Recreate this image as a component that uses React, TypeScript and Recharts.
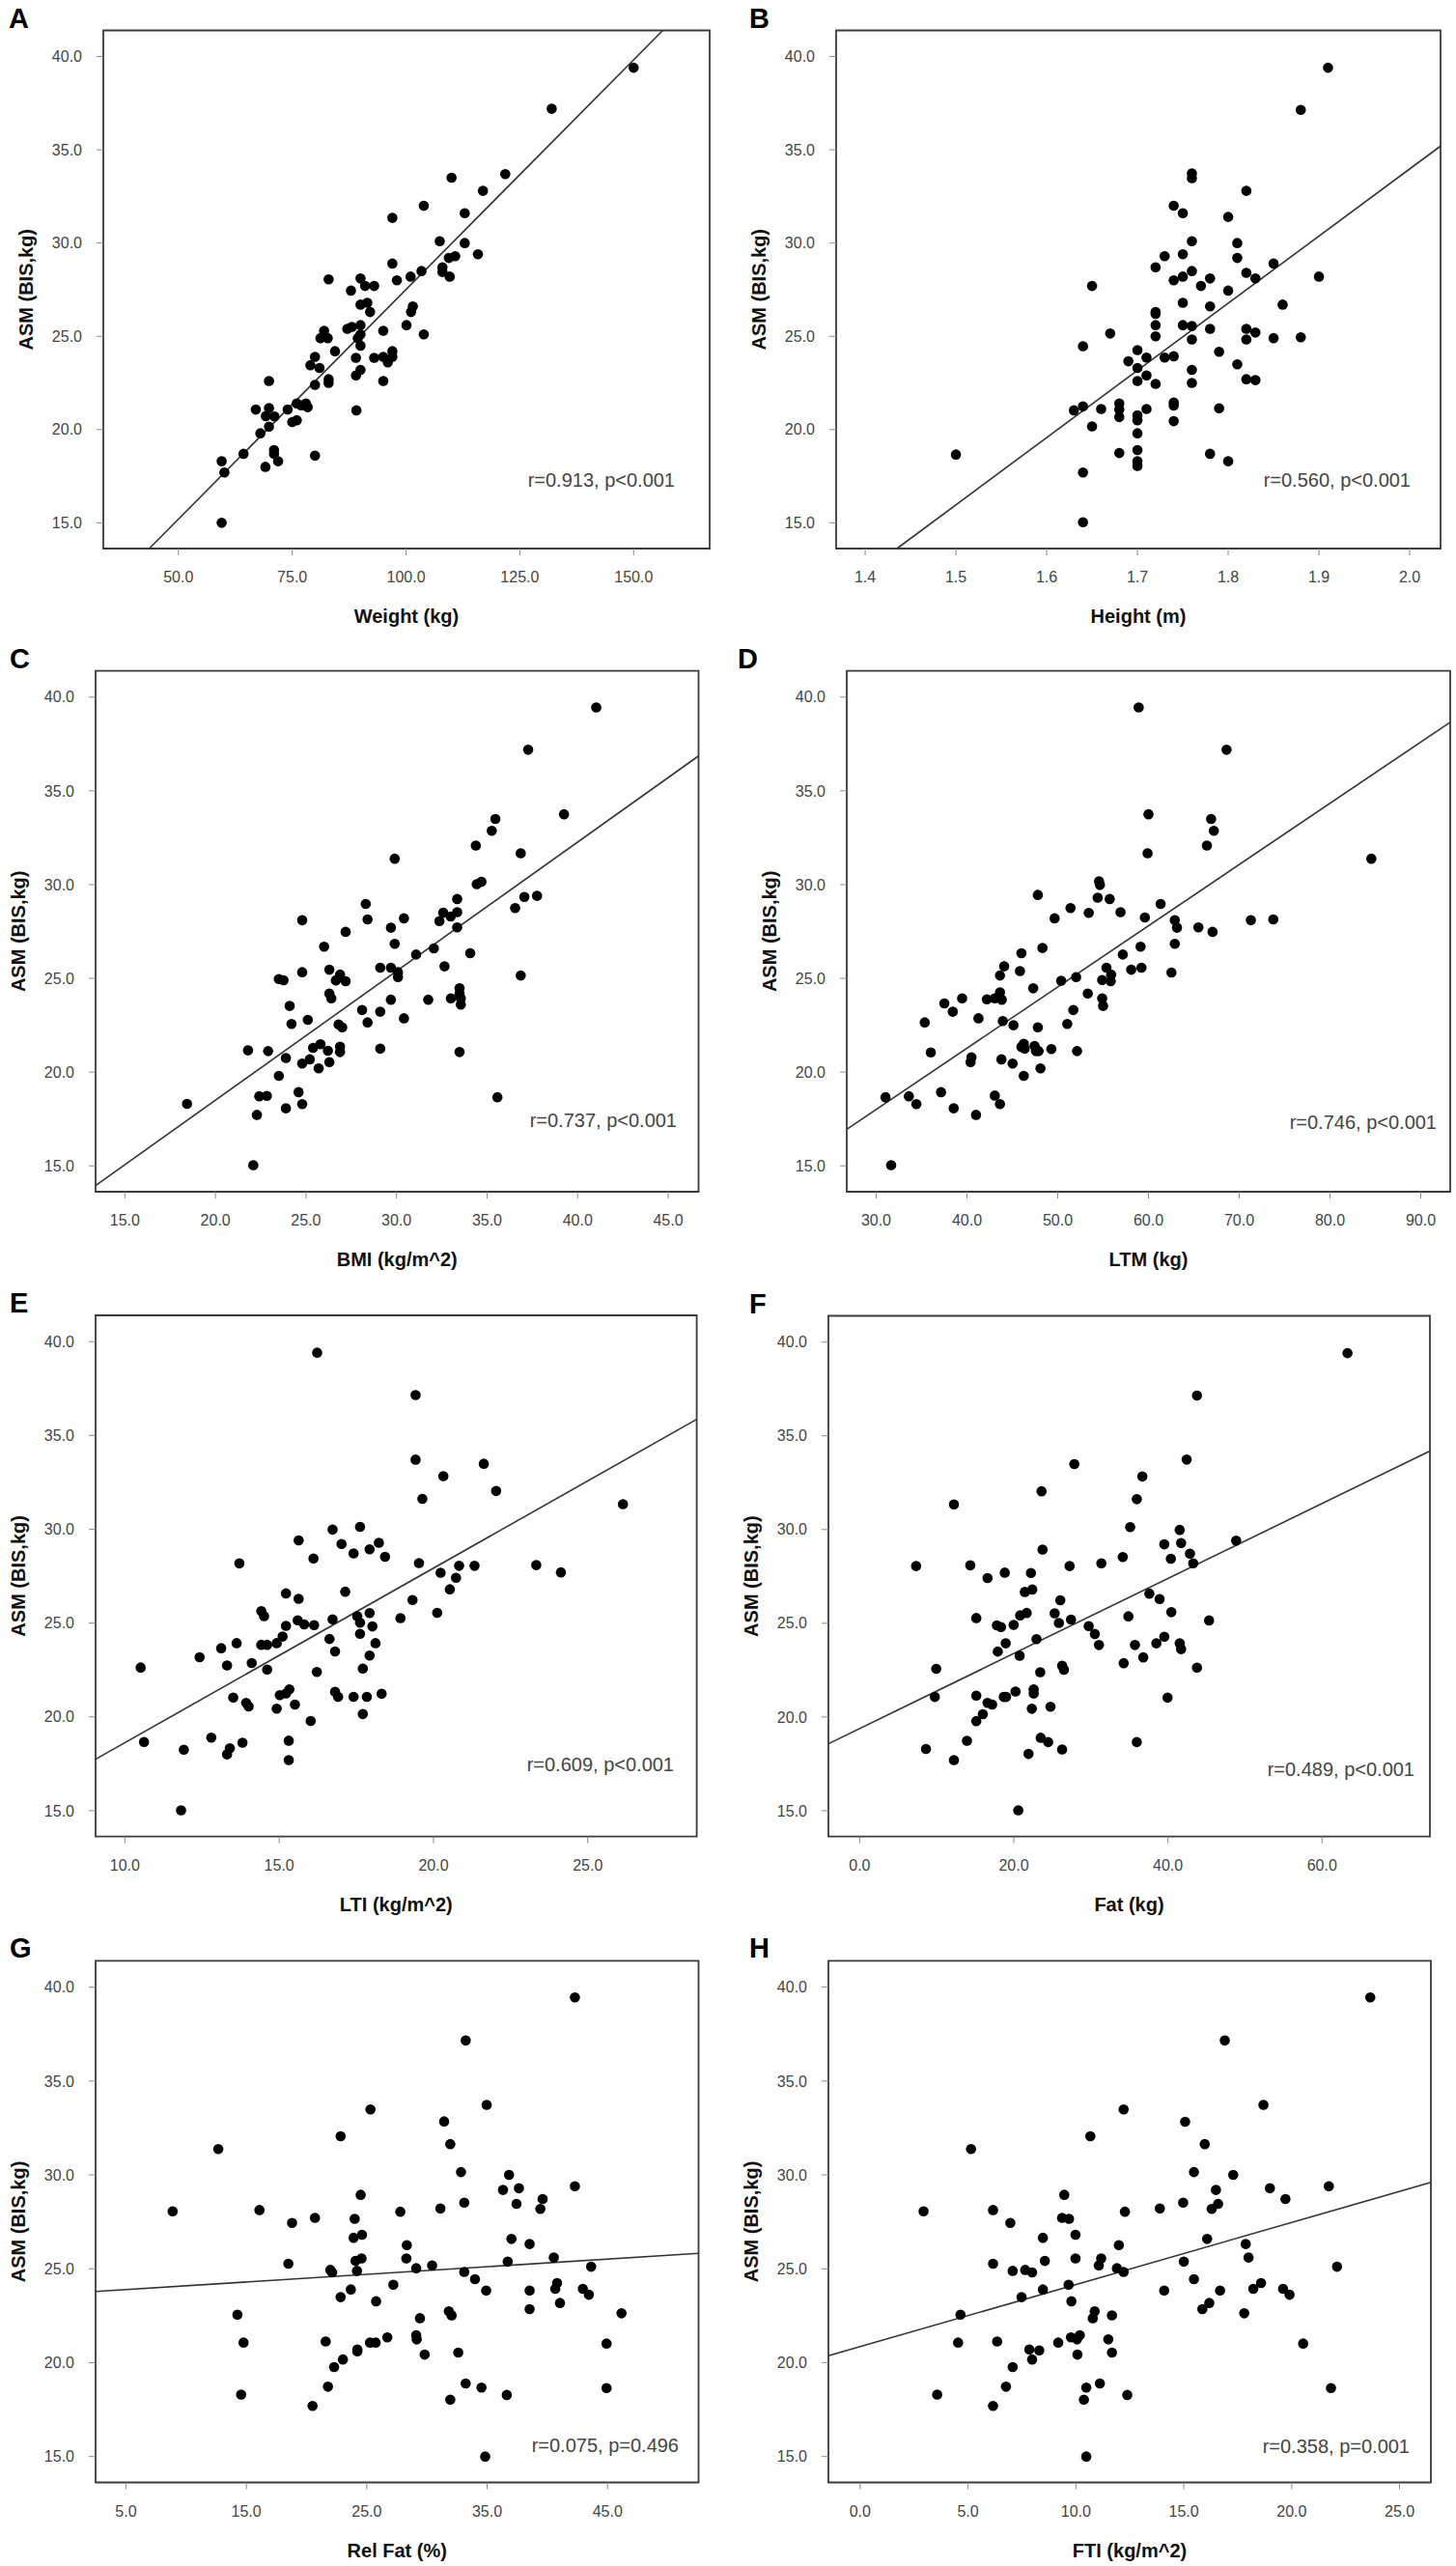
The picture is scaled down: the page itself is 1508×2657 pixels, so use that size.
import React from "react";
import {
  ScatterChart, Scatter, XAxis, YAxis, ReferenceArea, ReferenceLine,
} from "recharts";

type Pt = [number, number];

const FONT = "'Liberation Sans', Arial, sans-serif";

// shared y axis: ASM (BIS, kg)
const asmTicks = [15, 20, 25, 30, 35, 40];
const asmDomain: [number, number] = [13.62, 41.4];

// A: weight
const weightTicks = [50, 75, 100, 125, 150];
const weightDomain: [number, number] = [33.5, 166.7];
const weightFit: Pt[] = [[43.6, 13.62], [156.4, 41.4]];
const weightPts: Pt[] = [
  [150.0, 39.4], [132.0, 37.2], [121.8, 33.7], [110.0, 33.5], [116.9, 32.8], [103.9, 32.0], [112.9, 31.6],
  [97.0, 31.35], [107.4, 30.1], [112.9, 30.0], [115.8, 29.4], [109.4, 29.2], [110.8, 29.3], [97.0, 28.9],
  [103.4, 28.5], [108.0, 28.7], [108.0, 28.45], [109.6, 28.2], [101.0, 28.2], [98.0, 28.0], [83.0, 28.05],
  [90.0, 28.1], [91.0, 27.7], [93.0, 27.7], [87.9, 27.45], [90.0, 26.7], [91.5, 26.8], [92.1, 26.3],
  [101.5, 26.6], [101.1, 26.3], [100.1, 25.6], [103.9, 25.1], [95.0, 25.3], [87.1, 25.4], [88.1, 25.5],
  [90.0, 25.6], [90.0, 25.1], [89.4, 24.9], [90.0, 24.5], [82.0, 25.3], [81.2, 24.9], [82.8, 24.9],
  [84.4, 24.2], [80.0, 23.9], [79.0, 23.45], [81.0, 23.3], [89.0, 23.85], [93.0, 23.85], [95.0, 23.9],
  [96.0, 23.6], [97.0, 23.9], [97.0, 24.2], [90.0, 23.2], [89.0, 22.9], [83.0, 22.7], [83.0, 22.5],
  [80.0, 22.4], [95.0, 22.6], [69.9, 22.6], [67.0, 21.07], [69.9, 21.15], [69.2, 20.72], [71.1, 20.7],
  [69.9, 20.16], [68.0, 19.8], [74.0, 21.07], [75.0, 20.4], [76.0, 20.5], [76.0, 21.4], [77.0, 21.3],
  [78.0, 21.4], [78.4, 21.2], [89.1, 21.03], [64.3, 18.7], [71.0, 18.9], [71.0, 18.7], [71.9, 18.3],
  [69.1, 18.0], [59.5, 18.3], [60.1, 17.7], [80.0, 18.6], [59.5, 15.0],
];

// B: height
const heightTicks = [1.4, 1.5, 1.6, 1.7, 1.8, 1.9, 2.0];
const heightDomain: [number, number] = [1.368, 2.034];
const heightFit: Pt[] = [[1.435, 13.62], [2.034, 35.2]];
const heightPts: Pt[] = [
  [1.91, 39.4], [1.88, 37.14], [1.76, 33.74], [1.76, 33.48], [1.82, 32.8], [1.74, 32.0], [1.75, 31.6],
  [1.80, 31.4], [1.76, 30.1], [1.81, 30.0], [1.81, 29.2], [1.73, 29.3], [1.75, 29.4], [1.85, 28.9],
  [1.72, 28.7], [1.76, 28.5], [1.82, 28.4], [1.75, 28.2], [1.74, 28.0], [1.78, 28.1], [1.83, 28.1],
  [1.90, 28.2], [1.65, 27.7], [1.77, 27.7], [1.80, 27.45], [1.75, 26.8], [1.78, 26.6], [1.86, 26.7],
  [1.72, 26.3], [1.72, 26.2], [1.72, 25.6], [1.75, 25.6], [1.76, 25.55], [1.78, 25.4], [1.82, 25.4],
  [1.83, 25.2], [1.67, 25.15], [1.72, 25.0], [1.76, 24.83], [1.82, 24.83], [1.85, 24.9], [1.88, 24.95],
  [1.64, 24.47], [1.70, 24.26], [1.79, 24.17], [1.69, 23.66], [1.71, 23.86], [1.73, 23.86], [1.74, 23.93],
  [1.70, 23.3], [1.76, 23.2], [1.81, 23.5], [1.71, 22.9], [1.70, 22.6], [1.72, 22.45], [1.76, 22.5],
  [1.82, 22.7], [1.83, 22.65], [1.63, 21.03], [1.64, 21.24], [1.66, 21.1], [1.68, 21.4], [1.68, 21.07],
  [1.68, 20.67], [1.70, 20.76], [1.70, 20.5], [1.71, 21.1], [1.74, 21.45], [1.74, 21.28], [1.74, 20.45],
  [1.79, 21.14], [1.65, 20.17], [1.70, 19.8], [1.50, 18.66], [1.68, 18.74], [1.70, 18.9], [1.70, 18.3],
  [1.70, 18.05], [1.78, 18.7], [1.80, 18.3], [1.64, 17.7], [1.64, 15.03],
];

// C: BMI
const bmiTicks = [15, 20, 25, 30, 35, 40, 45];
const bmiDomain: [number, number] = [13.38, 46.68];
const bmiFit: Pt[] = [[13.38, 13.95], [46.68, 36.86]];
const bmiPts: Pt[] = [
  [41.03, 39.45], [37.27, 37.19], [35.46, 33.5], [35.26, 32.87], [39.25, 33.75], [34.38, 32.08], [36.86, 31.67],
  [29.9, 31.38], [34.43, 30.02], [34.69, 30.15], [33.35, 29.23], [37.06, 29.34], [37.76, 29.4], [36.55, 28.75],
  [28.3, 28.97], [33.35, 28.53], [32.58, 28.5], [32.99, 28.3], [32.37, 28.05], [28.4, 28.14], [30.41, 28.2],
  [24.79, 28.1], [29.69, 27.7], [33.35, 27.72], [27.19, 27.48], [29.9, 26.84], [26.0, 26.69], [32.06, 26.6],
  [31.08, 26.27], [34.07, 26.34], [26.29, 25.46], [29.69, 25.57], [29.1, 25.57], [32.65, 25.64], [30.08, 25.33],
  [30.08, 25.07], [24.79, 25.33], [23.5, 24.96], [23.76, 24.9], [26.88, 25.2], [26.65, 24.89], [27.19, 24.85],
  [36.86, 25.15], [33.48, 24.47], [33.48, 24.19], [33.55, 23.93], [33.55, 23.6], [26.29, 24.19], [26.4, 23.93],
  [29.69, 23.86], [31.75, 23.86], [33.0, 23.93], [24.1, 23.53], [28.1, 23.31], [29.1, 23.22], [25.1, 22.79],
  [24.2, 22.57], [30.41, 22.87], [28.4, 22.65], [26.8, 22.54], [27.0, 22.39], [25.8, 21.49], [25.39, 21.29],
  [26.21, 21.14], [26.88, 21.36], [26.88, 21.07], [21.8, 21.16], [22.91, 21.12], [29.1, 21.25], [33.48, 21.07],
  [23.89, 20.75], [25.21, 20.68], [24.79, 20.46], [26.29, 20.53], [25.7, 20.2], [23.5, 19.8], [24.59, 18.93],
  [22.42, 18.71], [22.84, 18.73], [35.57, 18.66], [18.43, 18.31], [24.79, 18.29], [23.89, 18.07], [22.29, 17.72],
  [22.09, 15.04],
];

// D: LTM
const ltmTicks = [30, 40, 50, 60, 70, 80, 90];
const ltmDomain: [number, number] = [26.76, 93.24];
const ltmFit: Pt[] = [[26.76, 16.95], [93.24, 38.66]];
const ltmPts: Pt[] = [
  [58.92, 39.45], [68.6, 37.19], [60.0, 33.75], [66.9, 33.5], [67.2, 32.87], [66.44, 32.08], [59.9, 31.67],
  [84.55, 31.38], [54.55, 30.18], [54.65, 29.98], [47.81, 29.45], [54.4, 29.3], [55.73, 29.23], [51.41, 28.75],
  [61.34, 28.97], [53.42, 28.49], [56.92, 28.53], [49.66, 28.2], [59.6, 28.25], [62.9, 28.1], [71.28, 28.1],
  [73.75, 28.14], [63.14, 27.7], [65.5, 27.72], [67.06, 27.48], [48.32, 26.62], [62.9, 26.84], [59.13, 26.69],
  [46.0, 26.34], [57.17, 26.27], [44.1, 25.64], [55.37, 25.57], [59.23, 25.57], [58.1, 25.46], [45.84, 25.39],
  [43.64, 25.15], [62.53, 25.31], [52.03, 25.07], [54.9, 24.91], [55.84, 24.85], [55.89, 25.2], [50.38, 24.87],
  [47.3, 24.47], [43.64, 24.25], [39.47, 23.93], [42.2, 23.88], [43.07, 23.93], [43.84, 23.86], [37.51, 23.66],
  [53.31, 24.19], [54.9, 23.93], [55.0, 23.53], [38.44, 23.22], [51.72, 23.31], [41.27, 22.87], [43.95, 22.72],
  [35.35, 22.65], [45.13, 22.5], [51.05, 22.57], [47.81, 22.39], [46.26, 21.51], [46.36, 21.25], [46.0, 21.34],
  [47.45, 21.4], [47.6, 21.12], [47.9, 21.12], [49.3, 21.23], [36.02, 21.05], [52.13, 21.12], [40.5, 20.79],
  [40.4, 20.53], [43.8, 20.68], [45.03, 20.46], [48.1, 20.2], [46.26, 19.8], [31.03, 18.66], [33.6, 18.71],
  [34.43, 18.29], [37.15, 18.93], [38.54, 18.07], [43.07, 18.75], [43.64, 18.29], [41.0, 17.72], [31.65, 15.04],
];

// E: LTI
const ltiTicks = [10, 15, 20, 25];
const ltiDomain: [number, number] = [9.05, 28.53];
const ltiFit: Pt[] = [[9.05, 17.74], [28.53, 35.86]];
const ltiPts: Pt[] = [
  [16.23, 39.41], [19.42, 37.15], [19.42, 33.71], [21.63, 33.49], [20.32, 32.83], [22.03, 32.04], [19.64, 31.62],
  [26.14, 31.34], [16.73, 29.98], [17.62, 30.13], [15.63, 29.41], [17.02, 29.21], [18.23, 29.28], [17.93, 28.93],
  [17.41, 28.71], [18.43, 28.53], [16.11, 28.44], [13.71, 28.18], [19.53, 28.2], [21.33, 28.05], [20.83, 28.05],
  [23.33, 28.09], [20.23, 27.68], [24.13, 27.7], [20.73, 27.41], [20.53, 26.8], [15.22, 26.58], [17.14, 26.67],
  [15.63, 26.29], [19.32, 26.23], [14.42, 25.64], [14.51, 25.37], [20.12, 25.55], [17.93, 25.53], [17.53, 25.37],
  [15.6, 25.15], [16.73, 25.2], [18.93, 25.26], [15.81, 24.93], [16.13, 24.89], [15.22, 24.85], [17.62, 25.02],
  [18.02, 24.82], [15.11, 24.28], [17.62, 24.43], [16.63, 24.15], [13.62, 23.93], [14.42, 23.84], [14.61, 23.84],
  [14.92, 23.93], [13.12, 23.66], [18.12, 23.93], [16.81, 23.49], [17.93, 23.27], [12.42, 23.18], [14.11, 22.87],
  [13.31, 22.74], [10.51, 22.63], [14.61, 22.52], [17.71, 22.57], [16.22, 22.39], [13.51, 21.03], [15.02, 21.16],
  [15.22, 21.25], [15.33, 21.47], [16.81, 21.34], [16.91, 21.07], [17.41, 21.07], [17.84, 21.07], [18.32, 21.23],
  [13.93, 20.75], [14.01, 20.55], [15.51, 20.66], [14.92, 20.44], [17.71, 20.15], [16.02, 19.78], [10.62, 18.66],
  [11.91, 18.25], [12.8, 18.89], [13.4, 18.33], [13.31, 18.0], [13.81, 18.62], [15.31, 18.73], [15.31, 17.7],
  [11.82, 15.02],
];

// F: fat mass
const fatTicks = [0, 20, 40, 60];
const fatDomain: [number, number] = [-4.06, 74.0];
const fatFit: Pt[] = [[-4.06, 18.57], [74.0, 34.19]];
const fatPts: Pt[] = [
  [63.3, 39.41], [43.77, 37.15], [27.85, 33.49], [42.43, 33.73], [36.68, 32.83], [23.6, 32.04], [35.96, 31.62],
  [12.23, 31.34], [35.1, 30.13], [41.53, 29.98], [39.53, 29.21], [41.71, 29.28], [48.85, 29.41], [23.73, 28.93],
  [42.86, 28.71], [40.38, 28.44], [34.14, 28.53], [43.28, 28.2], [31.36, 28.2], [7.32, 28.05], [14.35, 28.09],
  [27.24, 28.05], [18.83, 27.7], [22.22, 27.68], [16.59, 27.41], [22.4, 26.8], [21.43, 26.67], [37.59, 26.58],
  [38.92, 26.29], [26.03, 26.23], [21.67, 25.55], [20.82, 25.42], [25.3, 25.53], [40.44, 25.59], [34.87, 25.37],
  [15.13, 25.28], [27.42, 25.2], [45.34, 25.15], [25.85, 25.02], [19.98, 24.91], [17.8, 24.89], [18.34, 24.8],
  [29.72, 24.85], [30.51, 24.43], [39.53, 24.28], [22.94, 24.15], [18.95, 23.93], [31.05, 23.84], [35.72, 23.84],
  [38.5, 23.93], [41.53, 23.93], [41.71, 23.62], [17.92, 23.49], [20.76, 23.27], [36.8, 23.18], [34.26, 22.87],
  [26.27, 22.74], [26.51, 22.52], [43.77, 22.63], [9.93, 22.57], [23.43, 22.39], [22.58, 21.47], [22.58, 21.25],
  [20.22, 21.36], [9.75, 21.07], [15.13, 21.14], [18.7, 21.07], [19.0, 21.07], [39.95, 21.03], [16.59, 20.75],
  [17.19, 20.66], [24.76, 20.55], [22.34, 20.44], [15.98, 20.15], [15.13, 19.78], [23.49, 18.89], [24.46, 18.66],
  [13.92, 18.73], [35.96, 18.66], [8.6, 18.29], [26.27, 18.27], [21.91, 18.03], [12.23, 17.7], [20.58, 15.02],
];

// G: relative fat
const relFatTicks = [5, 15, 25, 35, 45];
const relFatDomain: [number, number] = [2.48, 52.56];
const relFatFit: Pt[] = [[2.48, 23.79], [52.56, 25.82]];
const relFatPts: Pt[] = [
  [42.29, 39.45], [33.22, 37.16], [25.31, 33.49], [34.96, 33.73], [31.43, 32.85], [22.83, 32.06], [31.94, 31.64],
  [12.67, 31.38], [32.83, 30.15], [36.82, 30.0], [42.29, 29.4], [36.32, 29.2], [37.64, 29.29], [24.5, 28.94],
  [39.61, 28.72], [33.1, 28.52], [37.44, 28.46], [39.42, 28.19], [31.12, 28.21], [8.88, 28.06], [16.09, 28.13],
  [27.79, 28.04], [20.7, 27.71], [24.0, 27.66], [18.8, 27.44], [23.91, 26.65], [24.61, 26.81], [37.02, 26.59],
  [28.33, 26.26], [38.53, 26.32], [40.54, 25.6], [24.57, 25.55], [28.29, 25.55], [24.07, 25.42], [18.49, 25.27],
  [36.71, 25.38], [30.43, 25.18], [43.64, 25.11], [29.11, 25.03], [21.98, 24.94], [22.13, 24.81], [24.19, 24.89],
  [33.1, 24.83], [33.99, 24.45], [27.21, 24.15], [23.68, 23.9], [34.92, 23.84], [38.53, 23.84], [40.66, 23.93],
  [40.81, 24.24], [42.95, 23.93], [43.45, 23.62], [22.83, 23.49], [25.78, 23.27], [41.05, 23.18], [38.53, 22.85],
  [31.82, 22.74], [32.05, 22.52], [46.16, 22.63], [14.26, 22.56], [29.42, 22.37], [21.59, 21.13], [14.77, 21.07],
  [25.27, 21.07], [25.74, 21.07], [26.71, 21.35], [29.11, 21.46], [29.15, 21.24], [44.92, 21.02], [24.22, 20.7],
  [24.22, 20.6], [32.6, 20.54], [29.81, 20.43], [23.02, 20.17], [22.29, 19.77], [21.78, 18.72], [33.22, 18.89],
  [34.53, 18.67], [44.92, 18.65], [14.57, 18.3], [36.63, 18.28], [31.94, 18.03], [20.5, 17.7], [34.84, 15.0],
];

// H: FTI
const ftiTicks = [0, 5, 10, 15, 20, 25];
const ftiDomain: [number, number] = [-1.47, 26.45];
const ftiFit: Pt[] = [[-1.47, 20.37], [26.45, 29.6]];
const ftiPts: Pt[] = [
  [23.64, 39.45], [16.9, 37.16], [12.21, 33.49], [18.69, 33.73], [15.06, 32.83], [10.67, 32.06], [15.97, 31.64],
  [5.14, 31.38], [15.47, 30.15], [17.29, 30.0], [21.72, 29.4], [16.49, 29.2], [18.99, 29.29], [9.46, 28.94],
  [19.71, 28.72], [14.97, 28.52], [16.59, 28.46], [16.29, 28.19], [13.89, 28.21], [2.94, 28.06], [6.16, 28.13],
  [12.27, 28.04], [9.36, 27.71], [9.68, 27.66], [6.96, 27.44], [9.98, 26.81], [8.47, 26.65], [16.08, 26.59],
  [11.99, 26.26], [17.87, 26.32], [18.0, 25.6], [9.98, 25.55], [11.17, 25.55], [8.56, 25.42], [6.16, 25.27],
  [15.0, 25.38], [11.06, 25.18], [22.1, 25.11], [11.9, 25.03], [7.07, 24.89], [7.65, 24.94], [7.97, 24.81],
  [12.21, 24.83], [15.47, 24.45], [9.66, 24.15], [8.47, 23.9], [14.09, 23.84], [16.68, 23.84], [18.22, 23.93],
  [18.58, 24.24], [19.6, 23.93], [19.9, 23.62], [7.48, 23.49], [9.79, 23.27], [16.18, 23.18], [15.86, 22.85],
  [10.87, 22.74], [10.78, 22.37], [17.8, 22.63], [4.65, 22.56], [11.67, 22.52], [9.18, 21.07], [4.54, 21.07],
  [6.35, 21.13], [9.77, 21.35], [10.05, 21.24], [10.18, 21.46], [11.5, 21.24], [20.53, 21.02], [7.84, 20.7],
  [8.3, 20.65], [11.67, 20.54], [10.07, 20.43], [7.97, 20.17], [7.07, 19.77], [6.76, 18.72], [11.11, 18.89],
  [10.48, 18.67], [21.82, 18.65], [3.57, 18.3], [12.38, 18.28], [10.37, 18.03], [6.16, 17.7], [10.48, 15.0],
];

const panelLetters = ["A", "B", "C", "D", "E", "F", "G", "H"];
const xLabels = [
  "Weight (kg)", "Height (m)", "BMI (kg/m^2)", "LTM (kg)",
  "LTI (kg/m^2)", "Fat (kg)", "Rel Fat (%)", "FTI (kg/m^2)",
];
const statTexts = [
  "r=0.913, p<0.001", "r=0.560, p<0.001", "r=0.737, p<0.001", "r=0.746, p<0.001",
  "r=0.609, p<0.001", "r=0.489, p<0.001", "r=0.075, p=0.496", "r=0.358, p=0.001",
];

// layout (panel-local pixels)
const PW = 754;
const PH = 664;
const boxes = [
  { left: 107, right: 735, top: 31.5, bottom: 568 },
  { left: 112, right: 738, top: 31.5, bottom: 568 },
  { left: 99, right: 723.5, top: 30.6, bottom: 570 },
  { left: 123, right: 748, top: 30.6, bottom: 570 },
  { left: 99, right: 721.6, top: 34, bottom: 573.7 },
  { left: 104, right: 727, top: 34.5, bottom: 573.7 },
  { left: 99, right: 723.5, top: 38.4, bottom: 578.5 },
  { left: 104, right: 728, top: 38.4, bottom: 578.5 },
];
const letterX = [9, 22, 10, 10, 10, 22, 10, 22];
const statRight = [699, 707, 701, 734, 698, 711, 703, 706];
const statMid = [497, 497, 496, 498, 499, 504, 540, 541];

const panels = [
  { pts: weightPts, ticks: weightTicks, domain: weightDomain, fit: weightFit },
  { pts: heightPts, ticks: heightTicks, domain: heightDomain, fit: heightFit },
  { pts: bmiPts, ticks: bmiTicks, domain: bmiDomain, fit: bmiFit },
  { pts: ltmPts, ticks: ltmTicks, domain: ltmDomain, fit: ltmFit },
  { pts: ltiPts, ticks: ltiTicks, domain: ltiDomain, fit: ltiFit },
  { pts: fatPts, ticks: fatTicks, domain: fatDomain, fit: fatFit },
  { pts: relFatPts, ticks: relFatTicks, domain: relFatDomain, fit: relFatFit },
  { pts: ftiPts, ticks: ftiTicks, domain: ftiDomain, fit: ftiFit },
];

const Dot = (props: any) => <circle cx={props.cx} cy={props.cy} r={5.3} fill="#000" />;

function Panel({ i }: { i: number }) {
  const p = panels[i];
  const box = boxes[i];
  const data = p.pts.map(([x, y]) => ({ x, y }));
  const xAxisH = 77;
  const yAxisW = 90;
  return (
    <div style={{ position: "absolute", left: (i % 2) * PW, top: Math.floor(i / 2) * PH, width: PW, height: PH }}>
      <ScatterChart
        width={PW}
        height={PH}
        margin={{ top: box.top, right: PW - box.right, bottom: PH - box.bottom - xAxisH, left: box.left - yAxisW }}
      >
        <XAxis
          type="number"
          dataKey="x"
          domain={p.domain}
          ticks={p.ticks}
          interval={0}
          allowDataOverflow
          height={xAxisH}
          axisLine={false}
          tickLine={{ stroke: "#8a8a8a" }}
          tickSize={7}
          tickMargin={17}
          tick={{ fontSize: 16, fill: "#444", fontFamily: FONT }}
          tickFormatter={(v: number) => v.toFixed(1)}
          label={{
            value: xLabels[i], position: "insideBottom", offset: 0,
            fontSize: 20, fontWeight: 700, fill: "#111", fontFamily: FONT,
          }}
        />
        <YAxis
          type="number"
          dataKey="y"
          domain={asmDomain}
          ticks={asmTicks}
          interval={0}
          allowDataOverflow
          width={yAxisW}
          axisLine={false}
          tickLine={{ stroke: "#8a8a8a" }}
          tickSize={7}
          tickMargin={15}
          tick={{ fontSize: 16, fill: "#444", fontFamily: FONT }}
          tickFormatter={(v: number) => v.toFixed(1)}
          label={{
            value: "ASM (BIS,kg)", angle: -90, position: "insideLeft", offset: 10,
            fontSize: 20, fontWeight: 700, fill: "#111", fontFamily: FONT,
            style: { textAnchor: "middle" },
          }}
        />
        <Scatter data={data} shape={Dot} isAnimationActive={false} />
        <ReferenceLine
          segment={[{ x: p.fit[0][0], y: p.fit[0][1] }, { x: p.fit[1][0], y: p.fit[1][1] }]}
          stroke="#333"
          strokeWidth={1.6}
          ifOverflow="visible"
        />
        <ReferenceArea
          x1={p.domain[0]}
          x2={p.domain[1]}
          y1={asmDomain[0]}
          y2={asmDomain[1]}
          fill="none"
          fillOpacity={0}
          stroke="#3a3a3a"
          strokeWidth={1.8}
          ifOverflow="visible"
        />
      </ScatterChart>
      <svg width={PW} height={PH} style={{ position: "absolute", left: 0, top: 0, pointerEvents: "none" }}>
        <text x={letterX[i]} y={box.top - 3} fontSize={29} fontWeight={700} fill="#000" fontFamily={FONT}>
          {panelLetters[i]}
        </text>
        <text x={statRight[i]} y={statMid[i] + 7} textAnchor="end" fontSize={20} fill="#444" fontFamily={FONT}>
          {statTexts[i]}
        </text>
      </svg>
    </div>
  );
}

export default function App() {
  return (
    <div style={{ position: "absolute", left: 0, top: 0, width: 1508, height: 2657, background: "#fff", overflow: "hidden" }}>
      {panelLetters.map((_, i) => <Panel key={i} i={i} />)}
    </div>
  );
}
